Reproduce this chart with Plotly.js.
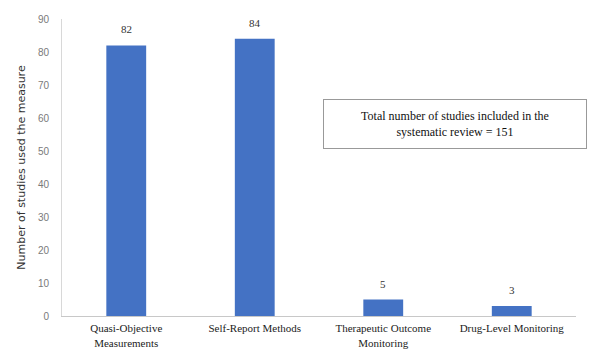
<!DOCTYPE html>
<html><head><meta charset="utf-8">
<script src="https://cdn.plot.ly/plotly-3.0.1.min.js"></script>
<style>html,body{margin:0;padding:0;background:#fff;}#chart{width:598px;height:350px;}</style>
</head><body><div id="chart"></div>
<script>
const categories = ["Quasi-Objective<br>Measurements", "Self-Report Methods", "Therapeutic Outcome<br>Monitoring", "Drug-Level Monitoring"];
const studies = [82, 84, 5, 3];
const yTicks = [0, 10, 20, 30, 40, 50, 60, 70, 80, 90];
const noteText = "Total number of studies included in the<br>systematic review = 151";

const trace = {
  type: "bar", x: categories, y: studies,
  marker: {color: "#4472C4"}, width: 0.31,
  hoverinfo: "none"
};
const valueLabels = categories.map((c, i) => ({
  x: c, y: studies[i], xref: "x", yref: "y", text: String(studies[i]),
  showarrow: false, yanchor: "bottom", yshift: 8,
  font: {family: "Liberation Serif", size: 11, color: "#333"}
}));
const layout = {
  width: 598, height: 350,
  margin: {l: 62, r: 22, t: 19, b: 34},
  paper_bgcolor: "#fff", plot_bgcolor: "#fff",
  showlegend: false,
  xaxis: {
    showgrid: false, showline: true, linecolor: "#c8c8c8", linewidth: 1,
    tickfont: {family: "Liberation Serif", size: 11, color: "#222"},
    ticks: "", ticklabelstandoff: 2
  },
  yaxis: {
    range: [0, 90], tickvals: yTicks, showgrid: false, zeroline: false,
    showline: true, linecolor: "#d8d8d8", linewidth: 1,
    ticks: "outside", ticklen: 10, tickcolor: "rgba(0,0,0,0)",
    tickfont: {family: "Liberation Sans", size: 10, color: "#7a7a7a"},
    title: {text: "Number of studies used the measure", font: {family: "DejaVu Sans", size: 11, color: "#333"}, standoff: 10}
  },
  annotations: valueLabels.concat([{
    xref: "paper", yref: "paper", x: 0.765, y: 0.646, xanchor: "center", yanchor: "middle",
    text: noteText, showarrow: false, align: "center",
    font: {family: "Liberation Serif", size: 12, color: "#111"},
    bordercolor: "#999", borderwidth: 1, borderpad: 9, bgcolor: "#fff", width: 244
  }])
};
Plotly.newPlot("chart", [trace], layout, {staticPlot: true});
</script></body></html>
